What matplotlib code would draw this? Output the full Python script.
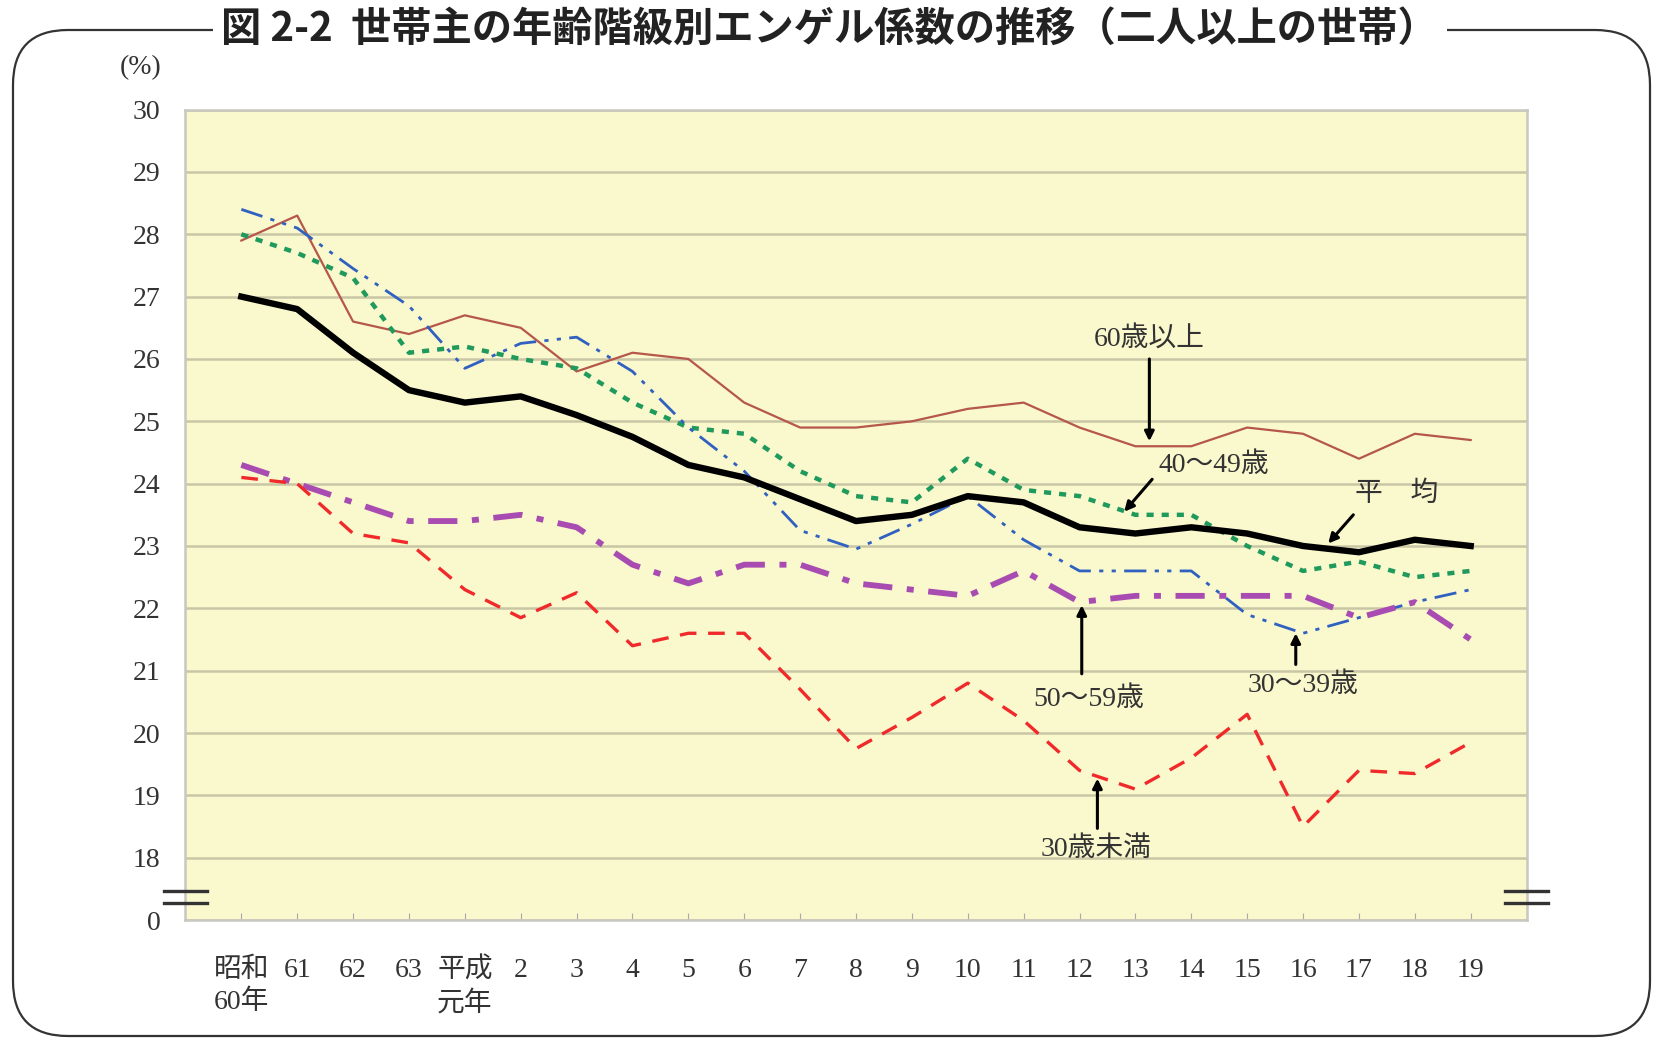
import matplotlib
matplotlib.use("Agg")
import matplotlib.pyplot as plt
from matplotlib.patches import FancyBboxPatch

plt.rcParams["font.family"] = ["Liberation Serif", "Noto Sans CJK JP"]

YEARS = ["昭和\n60年", "61", "62", "63", "平成\n元年", "2", "3", "4", "5", "6", "7",
         "8", "9", "10", "11", "12", "13", "14", "15", "16", "17", "18", "19"]

AVERAGE = [27.0, 26.8, 26.1, 25.5, 25.3, 25.4, 25.1, 24.75, 24.3, 24.1, 23.75, 23.4,
           23.5, 23.8, 23.7, 23.3, 23.2, 23.3, 23.2, 23.0, 22.9, 23.1, 23.0]
OVER_60 = [27.9, 28.3, 26.6, 26.4, 26.7, 26.5, 25.8, 26.1, 26.0, 25.3, 24.9, 24.9,
           25.0, 25.2, 25.3, 24.9, 24.6, 24.6, 24.9, 24.8, 24.4, 24.8, 24.7]
AGE_40S = [28.0, 27.7, 27.3, 26.1, 26.2, 26.0, 25.85, 25.3, 24.9, 24.8, 24.2, 23.8,
           23.7, 24.4, 23.9, 23.8, 23.5, 23.5, 23.0, 22.6, 22.75, 22.5, 22.6]
AGE_30S = [28.4, 28.1, 27.45, 26.85, 25.85, 26.25, 26.35, 25.8, 24.9, 24.2, 23.25, 22.95,
           23.35, 23.8, 23.1, 22.6, 22.6, 22.6, 21.9, 21.6, 21.85, 22.1, 22.3]
AGE_50S = [24.3, 24.0, 23.7, 23.4, 23.4, 23.5, 23.3, 22.7, 22.4, 22.7, 22.7, 22.4,
           22.3, 22.2, 22.6, 22.1, 22.2, 22.2, 22.2, 22.2, 21.85, 22.1, 21.5]
UNDER_30 = [24.1, 24.0, 23.2, 23.05, 22.3, 21.85, 22.25, 21.4, 21.6, 21.6, 20.7, 19.75,
            20.25, 20.8, 20.2, 19.4, 19.1, 19.6, 20.3, 18.5, 19.4, 19.35, 19.85]

Y_TICKS = list(range(17, 31))
Y_LABELS = ["0"] + [str(v) for v in range(18, 31)]

# label text, text position, arrow tail, arrow tip (data coords)
LABELS = [
    ("60歳以上", (16.25, 26.32), (16.25, 26.0), (16.25, 24.68)),
    ("40〜49歳", (17.4, 24.3), (16.3, 24.07), (15.8, 23.55)),
    ("平\u3000均", (20.68, 23.83), (19.9, 23.5), (19.45, 23.04)),
    ("50〜59歳", (15.17, 20.55), (15.04, 20.95), (15.04, 22.05)),
    ("30〜39歳", (19.0, 20.76), (18.87, 21.1), (18.87, 21.6)),
    ("30歳未満", (15.3, 18.14), (15.32, 18.47), (15.32, 19.27)),
]


def main():
    fig = plt.figure(figsize=(16.53, 10.39), dpi=100)
    ax = fig.add_axes([0.1122, 0.1145, 0.8113, 0.78])
    ax.set_facecolor("#faf8cd")

    x = list(range(len(YEARS)))
    ax.plot(x, OVER_60, color="#b5574b", lw=1.6, zorder=3)
    ax.plot(x, AGE_40S, color="#1f9a5c", lw=3.2, ls=(0, (1.6, 1.8)), zorder=3)
    ax.plot(x, AGE_30S, color="#3060c0", lw=2.0, ls=(0, (8, 3, 1.5, 3, 1.5, 3)), zorder=3)
    ax.plot(x, AGE_50S, color="#a84cb2", lw=4.2, ls=(0, (5, 2.5, 1.2, 2.5)), zorder=3)
    ax.plot(x, UNDER_30, color="#f02a2a", lw=2.4, ls=(0, (5, 3.5)), zorder=3)
    ax.plot(x, AVERAGE, color="black", lw=4.6, zorder=4)

    ax.set_xlim(-1, len(YEARS))
    ax.set_ylim(17, 30)
    ax.set_xticks(x)
    ax.set_xticklabels(YEARS, fontsize=20, linespacing=1.35)
    ax.set_yticks(Y_TICKS)
    ax.set_yticklabels(Y_LABELS, fontsize=20, color="#333333")
    for lab in ax.get_xticklabels():
        lab.set_color("#333333")
        lab.set_multialignment("left")
    ax.tick_params(axis="x", direction="in", length=5, color="#aaaaaa", pad=27)
    ax.tick_params(axis="y", length=0, pad=18)
    ax.grid(axis="y", color="#c9c6a6", lw=1.8, zorder=1)
    for side in ["left", "top", "right", "bottom"]:
        ax.spines[side].set_color("#c8c8c0")
        ax.spines[side].set_linewidth(1.8)

    for text, tpos, tail, tip in LABELS:
        ax.annotate("", xy=tip, xytext=tail,
                    arrowprops=dict(arrowstyle="-|>", color="black", lw=2.2,
                                    mutation_scale=14, shrinkA=0, shrinkB=0),
                    zorder=6)
        ax.text(tpos[0], tpos[1], text, ha="center", va="center",
                fontsize=20, color="#333333", zorder=6)

    # axis break marks
    for xs in ([-0.016, 0.016], [0.984, 1.016]):
        for yy in (0.036, 0.021):
            ax.plot(xs, [yy, yy], transform=ax.transAxes, color="#333333",
                    lw=2.4, clip_on=False, zorder=7)

    fig.text(0.085, 0.935, "(%)", ha="center", va="center", fontsize=20,
             color="#333333")

    frame = FancyBboxPatch((0.13, 0.03), 16.37, 10.06,
                           boxstyle="round,pad=0,rounding_size=0.55",
                           transform=fig.dpi_scale_trans, facecolor="none",
                           edgecolor="#333333", lw=1.6)
    fig.patches.append(frame)

    fig.text(0.502, 0.9716, "図 2-2  世帯主の年齢階級別エンゲル係数の推移（二人以上の世帯）",
             ha="center", va="center", fontsize=29, fontweight="bold",
             family=["Noto Sans CJK JP"], color="#222222",
             bbox=dict(facecolor="white", edgecolor="none", pad=6))

    fig.savefig("out.png", dpi=100)


if __name__ == "__main__":
    main()
